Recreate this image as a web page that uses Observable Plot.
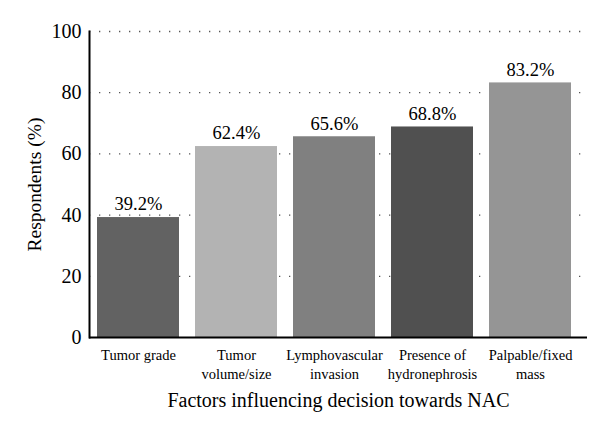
<!DOCTYPE html>
<html>
<head>
<meta charset="utf-8">
<script src="https://cdn.jsdelivr.net/npm/d3@7"></script>
<script src="https://cdn.jsdelivr.net/npm/@observablehq/plot@0.6"></script>
<style>
  html, body { margin: 0; padding: 0; background: #fff; }
  #chart { width: 600px; height: 434px; }
</style>
</head>
<body>
<div id="chart"></div>
<script>
const categories = ["Tumor grade", "Tumor\nvolume/size", "Lymphovascular\ninvasion", "Presence of\nhydronephrosis", "Palpable/fixed\nmass"];
const values = [39.2, 62.4, 65.6, 68.8, 83.2];
const colors = ["#626262", "#b3b3b3", "#808080", "#505050", "#959595"];
const yTicks = [0, 20, 40, 60, 80, 100];

const data = categories.map((c, i) => ({cat: c, value: values[i], color: colors[i]}));

const chart = Plot.plot({
  width: 600,
  height: 434,
  marginLeft: 89,
  marginRight: 13,
  marginTop: 31,
  marginBottom: 97,
  style: {fontFamily: "'Liberation Serif', serif", background: "#fff", color: "#000"},
  x: {domain: categories, paddingInner: 0.163, paddingOuter: 0.082, insetRight: 7, label: null},
  y: {domain: [0, 100], label: null},
  marks: [
    Plot.ruleY(yTicks.filter(d => d > 0), {stroke: "#555", strokeWidth: 1.3, strokeDasharray: "1.3,8.7"}),
    Plot.barY(data, {x: "cat", y: "value", fill: "color"}),
    Plot.text(data, {x: "cat", y: "value", text: d => d.value.toFixed(1) + "%", dy: -13, fontSize: 18.5, fill: "#000"}),
    Plot.axisY(yTicks, {tickSize: 0, tickPadding: 8, fontSize: 20, label: null}),
    Plot.axisX({anchor: "bottom", tickSize: 0, tickPadding: 9, fontSize: 14.5, lineHeight: 1.32, label: null}),
    Plot.frame({anchor: "left", stroke: "#000", strokeWidth: 2}),
    Plot.ruleY([0], {stroke: "#000", strokeWidth: 2}),
    Plot.text(["Respondents (%)"], {frameAnchor: "left", dx: -55, rotate: -90, textAnchor: "middle", lineAnchor: "middle", fontSize: 19.5, fill: "#000"}),
    Plot.text(["Factors influencing decision towards NAC"], {frameAnchor: "bottom", lineAnchor: "middle", dy: 63, fontSize: 20, fill: "#000"})
  ]
});
document.getElementById("chart").appendChild(chart);
</script>
</body>
</html>
